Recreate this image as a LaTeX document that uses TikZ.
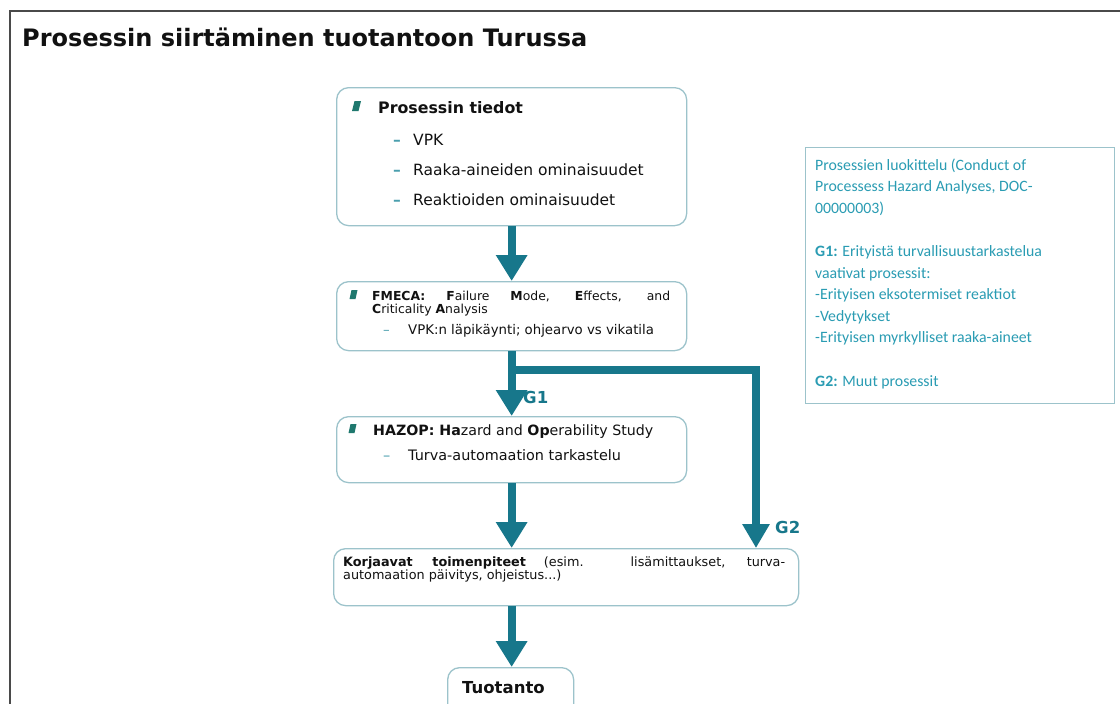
\documentclass[tikz,border=0pt]{standalone}
\usepackage{fontspec}
\setmainfont{DejaVu Sans}
\newfontfamily\calib{Carlito}
\usetikzlibrary{arrows.meta}
\definecolor{tealA}{HTML}{17778B}
\definecolor{tealtxt}{HTML}{2A9CB3}
\definecolor{boxline}{HTML}{9CC3CB}
\definecolor{bulc}{HTML}{1F786E}
\definecolor{dashc}{HTML}{4A9FAE}
\definecolor{framec}{HTML}{4A4A4A}
\definecolor{inkc}{HTML}{111111}
\begin{document}
\begin{tikzpicture}[x=1pt,y=-1pt,
  box/.style={draw=boxline, line width=1.3pt, rounded corners=12pt, anchor=north west, inner sep=0pt},
  bigarrow/.style={draw=tealA, line width=8pt, -{Triangle[width=30pt,length=26pt]}},
  txt/.style={anchor=base west, inner sep=0pt, text=inkc},
  bul/.style={fill=bulc},
  dsh/.style={txt, text=dashc},
  gl/.style={txt, text=tealA, font=\fontsize{16.5}{18}\selectfont\bfseries},
  rtxt/.style={txt, text=tealtxt, font=\calib\fontsize{15.8}{18}\selectfont}]
\useasboundingbox (0,0) rectangle (1120,704);
\fill[white] (0,0) rectangle (1120,704);
% outer frame
\draw[framec, line width=2pt] (10,704) -- (10,11) -- (1120,11);
\node[txt, font=\fontsize{24}{28}\selectfont\bfseries] (title) at (22,46) {Prosessin siirtäminen tuotantoon Turussa};

% boxes
\node[box, minimum width=350pt, minimum height=138pt] (b1) at (336,87) {};
\node[box, minimum width=350pt, minimum height=69pt] (b2) at (336,281) {};
\node[box, minimum width=350pt, minimum height=66pt] (b3) at (336,416) {};
\node[box, minimum width=465pt, minimum height=57pt] (b4) at (333,548) {};
\node[box, minimum width=126pt, minimum height=60pt] (b5) at (447,667) {};
\node[draw=boxline, line width=1.3pt, anchor=north west, inner sep=0pt, minimum width=309pt, minimum height=256pt] (rb) at (805,147) {};

% box 1 content
\fill[bul] (352,111) -- (354.5,101) -- (361,101) -- (358.5,111) -- cycle;
\node[txt, font=\fontsize{15.8}{18}\selectfont\bfseries] (h1) at (378,113) {Prosessin tiedot};
\node[dsh, font=\fontsize{15.5}{18}\selectfont\bfseries] (d11) at (393,145) {–};
\node[dsh, font=\fontsize{15.5}{18}\selectfont\bfseries] (d12) at (393,175) {–};
\node[dsh, font=\fontsize{15.5}{18}\selectfont\bfseries] (d13) at (393,205) {–};
\node[txt, font=\fontsize{15.5}{18}\selectfont] (i11) at (413,145) {VPK};
\node[txt, font=\fontsize{15.5}{18}\selectfont] (i12) at (413,175) {Raaka-aineiden ominaisuudet};
\node[txt, font=\fontsize{15.5}{18}\selectfont] (i13) at (413,205) {Reaktioiden ominaisuudet};

% box 2 content
\fill[bul] (349.5,299) -- (351.5,290) -- (357.5,290) -- (355.5,299) -- cycle;
\node[txt, font=\fontsize{12.4}{13}\selectfont] (h2a) at (372,300) {\makebox[298pt][s]{\textbf{FMECA:} \textbf{F}ailure \textbf{M}ode, \textbf{E}ffects, and}};
\node[txt, font=\fontsize{12.4}{13}\selectfont] (h2b) at (372,313) {\textbf{C}riticality \textbf{A}nalysis};
\node[dsh, font=\fontsize{13.3}{15}\selectfont] (d21) at (383,334) {–};
\node[txt, font=\fontsize{13.3}{15}\selectfont] (i21) at (408,334) {VPK:n läpikäynti; ohjearvo vs vikatila};

% box 3 content
\fill[bul] (348.5,433) -- (350.5,424) -- (356.5,424) -- (354.5,433) -- cycle;
\node[txt, font=\fontsize{14.2}{16}\selectfont] (h3) at (373,435) {\textbf{HAZOP: Ha}zard and \textbf{Op}erability Study};
\node[dsh, font=\fontsize{14.4}{16}\selectfont] (d31) at (383,460) {–};
\node[txt, font=\fontsize{14.4}{16}\selectfont] (i31) at (408,460) {Turva-automaation tarkastelu};

% box 4 content
\node[txt, font=\fontsize{12.8}{14}\selectfont] (h4a) at (343,566) {\makebox[442pt][s]{\textbf{Korjaavat toimenpiteet} (esim. lisämittaukset, turva-}};
\node[txt, font=\fontsize{12.8}{14}\selectfont] (h4b) at (343,579) {automaation päivitys, ohjeistus...)};

% box 5 content
\node[txt, font=\fontsize{16.5}{18}\selectfont\bfseries] (h5) at (462,693) {Tuotanto};

% right box
\node[rtxt] (r1) at (815,170) {Prosessien luokittelu (Conduct of};
\node[rtxt] (r2) at (815,191.6) {Processess Hazard Analyses, DOC-};
\node[rtxt] (r3) at (815,213.2) {00000003)};
\node[rtxt] (r4) at (815,256.4) {\textbf{G1:} Erityistä turvallisuustarkastelua};
\node[rtxt] (r5) at (815,278) {vaativat prosessit:};
\node[rtxt] (r6) at (815,299.6) {-Erityisen eksotermiset reaktiot};
\node[rtxt] (r7) at (815,321.2) {-Vedytykset};
\node[rtxt] (r8) at (815,342.8) {-Erityisen myrkylliset raaka-aineet};
\node[rtxt] (r9) at (815,386) {\textbf{G2:} Muut prosessit};

% arrows
\draw[bigarrow] (b1.south) -- (b2.north);
\draw[bigarrow] (b2.south) -- (b3.north);
\draw[bigarrow] (b3.south) -- (b3.south |- b4.north);
\draw[bigarrow] (b3.south |- b4.south) -- (b3.south |- b5.north);
\coordinate (brA) at (511,370);
\coordinate (brB) at (756,370);
\draw[draw=tealA, line width=8pt, -{Triangle[width=26pt,length=24pt]}] (brA) -- (brB) -- (brB |- b4.north);
\node[gl] (g1) at (523,403) {G1};
\node[gl] (g2) at (775,533) {G2};
\end{tikzpicture}
\end{document}
